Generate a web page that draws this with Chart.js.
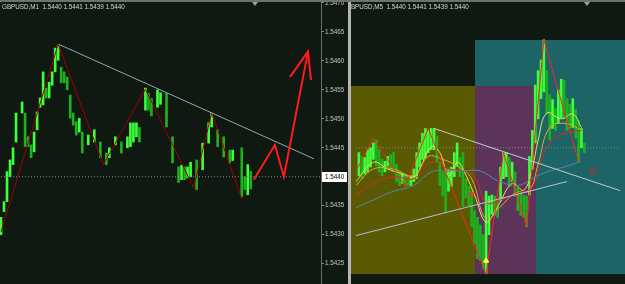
<!DOCTYPE html>
<html><head><meta charset="utf-8">
<script src="https://cdn.jsdelivr.net/npm/chart.js@4.4.1/dist/chart.umd.min.js"></script>
<style>
html,body{margin:0;padding:0;background:#0f1811;}
#wrap{position:relative;width:625px;height:284px;overflow:hidden;background:#0f1811;}
#left{position:absolute;left:0;top:0;width:348px;height:284px;}
#right{position:absolute;left:351px;top:0;width:274px;height:284px;overflow:hidden;}
#sep{position:absolute;left:348px;top:0;width:3px;height:284px;background:#b4b4b4;}
#topbar{position:absolute;left:0;top:0;width:625px;height:2px;background:#707070;}
.hdr{position:absolute;top:3px;font:6.3px 'Liberation Sans',Arial,sans-serif;color:#d8d8d8;white-space:pre;line-height:7px;}
.tri{position:absolute;top:2px;width:0;height:0;border-left:3px solid transparent;border-right:3px solid transparent;border-top:4px solid #a0a0a0;}
</style></head>
<body>
<div id="wrap">
  <div id="left"><canvas id="cl" width="348" height="284"></canvas></div>
  <div id="sep"></div>
  <div id="right"><canvas id="cr" width="274" height="284"></canvas></div>
  <div id="topbar"></div>
  <div class="hdr" style="left:2px">GBPUSD,M1  1.5440 1.5441 1.5439 1.5440</div>
  <div id="rh" style="position:absolute;left:351px;top:0;width:274px;height:12px;overflow:hidden;">
    <div class="hdr" style="left:-5px">GBPUSD,M5  1.5440 1.5441 1.5439 1.5440</div>
  </div>
  <div class="tri" style="left:252px"></div>
  <div class="tri" style="left:584px"></div>
</div>
<script>
// ---------- LEFT (M1) ----------
const leftTicks = [1.5425,1.5430,1.5435,1.5440,1.5445,1.5450,1.5455,1.5460,1.5465,1.5470];
const currentPrice = 1.5440;
const leftBars  = [0,1,2,3,4,5,7,8,9,10,11,12,13,14,15,16,17,18,19,20,21,22,23,24,25,26,27,29,31,33,35,36,38,40,42,43,44,45,46,48,49,50,52,53,55,57,59,60,61,62,63,65,67,69,70,72,74,76,77,80,81,82,83];
const leftLows  = [1.54300,1.54340,1.54357,1.54400,1.54421,1.54460,1.54510,1.54452,1.54452,1.54433,1.54443,1.54481,1.54520,1.54524,1.54536,1.54536,1.54558,1.54581,1.54601,1.54562,1.54562,1.54550,1.54501,1.54489,1.54472,1.54477,1.54441,1.54455,1.54460,1.54433,1.54421,1.54433,1.54455,1.54441,1.54450,1.54452,1.54460,1.54469,1.54460,1.54515,1.54515,1.54505,1.54520,1.54525,1.54486,1.54424,1.54390,1.54395,1.54395,1.54398,1.54400,1.54378,1.54412,1.54458,1.54486,1.54452,1.54434,1.54424,1.54428,1.54366,1.54378,1.54369,1.54379];
const leftHighs = [1.54330,1.54357,1.54409,1.54429,1.54450,1.54510,1.54529,1.54510,1.54469,1.54455,1.54477,1.54512,1.54536,1.54581,1.54553,1.54563,1.54581,1.54622,1.54627,1.54589,1.54581,1.54572,1.54541,1.54510,1.54495,1.54501,1.54477,1.54472,1.54481,1.54460,1.54441,1.54450,1.54469,1.54460,1.54469,1.54493,1.54493,1.54493,1.54485,1.54553,1.54544,1.54535,1.54550,1.54545,1.54544,1.54469,1.54417,1.54420,1.54417,1.54417,1.54425,1.54429,1.54458,1.54493,1.54510,1.54481,1.54469,1.54446,1.54446,1.54450,1.54400,1.54421,1.54409];
const leftZigBars   = [0,19,34,48,64,70,80];
const leftZigPrices = [1.54305,1.54629,1.54421,1.54551,1.54381,1.54510,1.54362];
const leftTrendBars   = [19,104];
const leftTrendPrices = [1.54629,1.54431];
const projBars   = [84,91,94,102];
const projPrices = [1.54395,1.54455,1.54400,1.54616];
const arrowBars   = [96,102,103];
const arrowPrices = [1.54572,1.54616,1.54567];

// ---------- RIGHT (M5) ----------
const rightBars  = [1,2,3,4,5,6,7,8,9,10,11,12,13,14,15,16,17,18,19,20,21,22,23,24,25,26,27,28,29,30,31,32,33,34,35,36,37,38,39,40,41,42,43,44,45,46,47,48,49,50,51,52,53,54,55,56,57,58,59,60,61,62,63,64,65,66,67,68,69,70,71,72,73,74,75,76,77,78,79];
const rightLows  = [1.54342,1.54336,1.54346,1.54350,1.54360,1.54376,1.54362,1.54350,1.54342,1.54350,1.54362,1.54356,1.54350,1.54330,1.54322,1.54326,1.54322,1.54322,1.54322,1.54330,1.54336,1.54360,1.54376,1.54380,1.54390,1.54396,1.54396,1.54370,1.54322,1.54300,1.54266,1.54310,1.54320,1.54340,1.54362,1.54340,1.54278,1.54296,1.54280,1.54236,1.54200,1.54170,1.54166,1.54150,1.54140,1.54220,1.54262,1.54260,1.54256,1.54290,1.54336,1.54340,1.54320,1.54330,1.54300,1.54270,1.54260,1.54256,1.54236,1.54302,1.54356,1.54410,1.54460,1.54502,1.54516,1.54470,1.54416,1.54440,1.54436,1.54450,1.54462,1.54460,1.54436,1.54440,1.54442,1.54420,1.54370,1.54400,1.54390];
const rightHighs = [1.54390,1.54382,1.54380,1.54396,1.54400,1.54410,1.54416,1.54396,1.54376,1.54372,1.54382,1.54386,1.54390,1.54366,1.54350,1.54346,1.54342,1.54340,1.54342,1.54356,1.54390,1.54410,1.54430,1.54440,1.54436,1.54440,1.54440,1.54424,1.54370,1.54350,1.54358,1.54356,1.54360,1.54390,1.54410,1.54380,1.54390,1.54336,1.54320,1.54310,1.54270,1.54256,1.54240,1.54220,1.54310,1.54300,1.54302,1.54300,1.54290,1.54360,1.54390,1.54390,1.54380,1.54370,1.54350,1.54316,1.54310,1.54302,1.54300,1.54382,1.54436,1.54530,1.54560,1.54582,1.54624,1.54560,1.54510,1.54500,1.54482,1.54520,1.54542,1.54540,1.54502,1.54490,1.54502,1.54480,1.54456,1.54440,1.54410];
const rightZigBars   = [0,6,17,25,45,51,59,65,77];
const rightZigPrices = [1.54352,1.54420,1.54320,1.54440,1.54138,1.54390,1.54236,1.54624,1.54370];
const maFastBars   = [0,6,11,14,20,22,26,29,32,35,37,41,45,49,54,58,61,63,66,71,75,78];
const maFastPrices = [1.54330,1.54370,1.54356,1.54350,1.54340,1.54356,1.54402,1.54390,1.54342,1.54370,1.54356,1.54302,1.54246,1.54278,1.54326,1.54312,1.54358,1.54416,1.54472,1.54460,1.54470,1.54442];
const maMidBars    = [0,6,13,20,25,30,35,40,45,50,55,60,63,67,73,78];
const maMidPrices  = [1.54322,1.54356,1.54356,1.54342,1.54382,1.54376,1.54362,1.54336,1.54252,1.54278,1.54306,1.54312,1.54366,1.54442,1.54450,1.54436];
const maSlowBars   = [0,6,13,20,26,32,37,41,45,50,56,61,63,67,72,78];
const maSlowPrices = [1.54302,1.54326,1.54340,1.54336,1.54370,1.54356,1.54352,1.54340,1.54286,1.54292,1.54306,1.54318,1.54356,1.54410,1.54430,1.54436];
const maLongBars   = [0,6,13,20,26,32,37,43,49,56,62,66,73,77];
const maLongPrices = [1.54276,1.54292,1.54310,1.54322,1.54350,1.54352,1.54352,1.54352,1.54332,1.54322,1.54340,1.54350,1.54362,1.54370];
const upperTrendBars   = [27,92];
const upperTrendPrices = [1.54440,1.54310];
const lowerTrendBars   = [0,73];
const lowerTrendPrices = [1.54218,1.54330];
const sessionStarts  = [41,-2,41];
const sessionEnds    = [95,41,62.3];
const sessionTops    = [1.54624,1.54528,1.54528];
const sessionBottoms = [1.54138,1.54138,1.54138];
const signalBars   = [40,45,82];
const signalPrices = [1.54304,1.54166,1.54352];

// ---------- helpers ----------
const pts = (xs, ys) => xs.map((x,i)=>({x, y: ys[i]}));
const candles = (xs, lo, hi) => xs.map((x,i)=>({x, y:[lo[i], hi[i]]}));
function candleColor(lo, hi){
  return ctx => {
    const i = ctx.dataIndex;
    if (i === 0) return '#3cff3c';
    return (lo[i]+hi[i]) >= (lo[i-1]+hi[i-1]) ? '#3cff3c' : '#1fb01f';
  };
}
const lineDs = (data, color, width, order, extra) => Object.assign({type:'line', data, borderColor:color, borderWidth:width, pointRadius:0, tension:0, order}, extra||{});
const font = {family:'Liberation Sans', size:6.3};

const priceBox = {
  id:'priceBox',
  afterDraw(chart){
    const y = chart.scales.y.getPixelForValue(currentPrice);
    const x = chart.chartArea.right + 1;
    const c = chart.ctx;
    c.save();
    c.fillStyle = '#ffffff';
    c.fillRect(x, Math.round(y) - 5, 25, 10);
    c.fillStyle = '#000000';
    c.font = "6.3px 'Liberation Sans'";
    c.textBaseline = 'middle';
    c.fillText(currentPrice.toFixed(4), x + 3, Math.round(y) + 0.5);
    c.restore();
  }
};

new Chart(document.getElementById('cl'), {
  type:'bar',
  data:{datasets:[
    lineDs(pts([-1,107],[currentPrice,currentPrice]), '#8a8a8a', 1, 4, {borderDash:[1,2]}),
    lineDs(pts(leftTrendBars,leftTrendPrices), '#8eaabb', 1, 2),
    lineDs(pts(leftZigBars,leftZigPrices), '#a00000', 1, 1),
    lineDs(pts(projBars,projPrices), '#ff1c1c', 2, 0),
    lineDs(pts(arrowBars,arrowPrices), '#ff1c1c', 2, 0),
    {type:'bar', data:candles(leftBars,leftLows,leftHighs), backgroundColor:candleColor(leftLows,leftHighs), barThickness:2, order:5}
  ]},
  options:{
    responsive:false, animation:false, events:[],
    layout:{padding:0},
    plugins:{legend:{display:false}, tooltip:{enabled:false}},
    scales:{
      x:{type:'linear', min:-0.33, max:106.33, display:false, offset:false},
      y:{position:'right', min:1.54215, max:1.54705,
         afterFit(s){ s.width = 27; s.paddingTop = 0; s.paddingBottom = 0; },
         afterBuildTicks(s){ s.ticks = leftTicks.map(v=>({value:v})); },
         ticks:{callback:v=>Number(v).toFixed(4), color:'#c4c4c4', font, padding:1},
         grid:{drawOnChartArea:false, drawTicks:true, tickLength:3, tickColor:'#8a8a8a', color:'#8a8a8a'},
         border:{display:true, color:'#6c6c6c'}}
    }
  },
  plugins:[priceBox]
});

// right chart background sessions
const sessionFills = ['#1c6466','#5a5a04','#5c345a'];
const sessionPlugin = {
  id:'sessions',
  beforeDatasetsDraw(chart){
    const {x, y} = chart.scales; const c = chart.ctx;
    c.save();
    sessionStarts.forEach((s,i)=>{
      const x0 = x.getPixelForValue(s), x1 = x.getPixelForValue(sessionEnds[i]);
      const y0 = y.getPixelForValue(sessionTops[i]), y1 = y.getPixelForValue(sessionBottoms[i]);
      c.fillStyle = sessionFills[i];
      c.fillRect(Math.round(x0), Math.round(y0), Math.round(x1)-Math.round(x0), Math.round(y1)-Math.round(y0));
    });
    c.restore();
  }
};

new Chart(document.getElementById('cr'), {
  type:'bar',
  data:{datasets:[
    lineDs(pts([-1,95],[currentPrice,currentPrice]), '#8a8a8a', 1, 6, {borderDash:[1,2]}),
    lineDs(pts(maLongBars,maLongPrices), '#5b86a8', 1, 3, {tension:0.4}),
    lineDs(pts(maSlowBars,maSlowPrices), '#e02424', 1, 3, {tension:0.4}),
    lineDs(pts(maMidBars,maMidPrices), '#f0a030', 1, 3, {tension:0.4}),
    lineDs(pts(maFastBars,maFastPrices), '#e4e45a', 1, 3, {tension:0.4}),
    lineDs(pts(rightZigBars,rightZigPrices), '#ff2222', 1, 2),
    lineDs(pts(upperTrendBars,upperTrendPrices), '#c2cccc', 1, 1),
    lineDs(pts(lowerTrendBars,lowerTrendPrices), '#b8c0d8', 1, 1),
    {type:'scatter', data:pts(signalBars,signalPrices), order:0,
     pointStyle:['star','triangle','circle'], pointRadius:3,
     pointBackgroundColor:['#ff3030','#ffff40','rgba(0,0,0,0)'], pointBorderColor:['#ff3030','#ffff40','#e02020'], pointBorderWidth:1},
    {type:'bar', data:candles(rightBars,rightLows,rightHighs), backgroundColor:candleColor(rightLows,rightHighs), barThickness:2, order:5}
  ]},
  options:{
    responsive:false, animation:false, events:[],
    layout:{padding:0},
    plugins:{legend:{display:false}, tooltip:{enabled:false}},
    scales:{
      x:{type:'linear', min:0, max:91.33, display:false, offset:false},
      y:{min:1.54128, max:1.54696, display:false}
    }
  },
  plugins:[sessionPlugin]
});
</script>
</body></html>
